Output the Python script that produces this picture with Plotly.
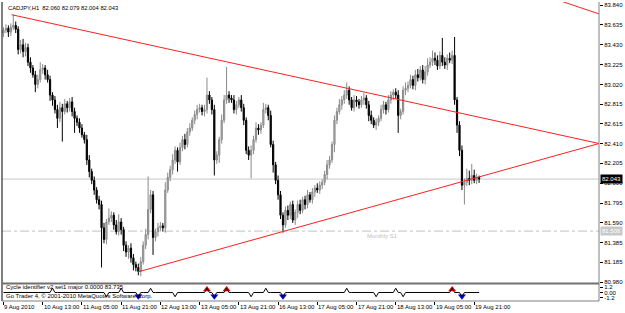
import plotly.graph_objects as go

# ---------------- data ----------------
chart_title = "CADJPY,H1  82.060 82.079 82.004 82.043"
first_open = 83.55

close = [
    83.58, 83.60, 83.56, 83.61, 83.63, 83.59, 83.38, 83.43,
    83.36, 83.40, 83.25, 83.19, 83.12, 83.02, 83.07, 83.17,
    83.19, 83.12, 83.07, 82.91, 82.86, 82.76, 82.67, 82.78,
    82.74, 82.82, 82.78, 82.84, 82.74, 82.67, 82.63, 82.57,
    82.50, 82.45, 82.24, 82.12, 82.03, 81.93, 81.83, 81.78,
    81.54, 81.42, 81.60, 81.64, 81.67, 81.57, 81.50, 81.60,
    81.52, 81.36, 81.29, 81.33, 81.23, 81.16, 81.13, 81.09,
    81.19, 81.36, 81.47, 81.73, 81.88, 81.44, 81.50, 81.54,
    81.56, 81.54, 81.93, 82.06, 82.14, 82.24, 82.34, 82.22,
    82.37, 82.45, 82.40, 82.53, 82.57, 82.65, 82.71, 82.76,
    82.78, 82.74, 82.76, 82.91, 82.86, 82.76, 82.24, 82.29,
    82.45, 82.65, 82.86, 82.91, 82.88, 82.86, 82.76, 82.81,
    82.86, 82.78, 82.65, 82.34, 82.29, 82.34, 82.45, 82.57,
    82.55, 82.60, 82.76, 82.78, 82.70, 82.40, 82.19, 82.03,
    81.88, 81.67, 81.57, 81.72, 81.67, 81.78, 81.62, 81.70,
    81.78, 81.72, 81.83, 81.78, 81.88, 81.83, 81.91, 81.95,
    81.93, 81.98, 82.01, 82.09, 82.19, 82.24, 82.40, 82.65,
    82.74, 82.81, 82.86, 82.91, 82.96, 82.86, 82.78, 82.86,
    82.84, 82.81, 82.86, 82.88, 82.81, 82.70, 82.65, 82.60,
    82.63, 82.67, 82.76, 82.81, 82.76, 82.86, 82.91, 82.94,
    82.91, 82.70, 82.74, 82.96, 82.98, 83.01, 83.07, 83.01,
    83.12, 83.09, 83.17, 83.07, 83.15, 83.22, 83.25, 83.29,
    83.27, 83.21, 83.32, 83.25, 83.22, 83.29, 83.27, 83.32,
    82.86, 82.60, 82.34, 81.98, 82.01, 82.05, 82.03, 82.08,
    82.03, 82.06, 82.043,
]

wick_up_pips = [
    3, 4, 3, 4, 11, 4, 3, 5, 6, 5,
    4, 5, 3, 4, 5, 8, 4, 3, 5, 4,
    3, 4, 5, 6, 4, 5, 3, 4, 5, 4,
    3, 4, 4, 3, 5, 5, 3, 4, 3, 4,
    4, 5, 3, 10, 4, 3, 5, 8, 4, 3,
    4, 3, 5, 4, 3, 4, 5, 4, 6, 34,
    5, 4, 3, 5, 4, 3, 8, 5, 4, 6,
    4, 3, 5, 4, 6, 4, 5, 3, 4, 5,
    4, 3, 5, 18, 4, 3, 5, 4, 3, 6,
    5, 29, 4, 3, 5, 4, 3, 5, 4, 3,
    4, 5, 4, 6, 4, 3, 7, 4, 3, 5,
    4, 3, 5, 4, 3, 4, 5, 3, 4, 3,
    4, 5, 3, 4, 5, 3, 4, 3, 5, 4,
    3, 4, 5, 4, 3, 5, 4, 6, 4, 5,
    8, 4, 3, 5, 4, 3, 4, 5, 3, 4,
    5, 3, 4, 3, 5, 4, 3, 5, 4, 3,
    4, 5, 3, 4, 6, 4, 5, 4, 5, 6,
    4, 5, 6, 7, 5, 8, 6, 5, 4, 18,
    5, 4, 6, 5, 19, 3, 4, 5, 4, 10,
    8, 12, 6, 4, 1.9,
]

wick_dn_pips = [
    4, 3, 5, 4, 3, 4, 5, 4, 6, 5,
    4, 5, 3, 8, 4, 3, 4, 5, 3, 6,
    6, 4, 10, 4, 31, 3, 5, 4, 5, 15,
    4, 5, 3, 4, 5, 6, 4, 5, 4, 5,
    41, 4, 5, 3, 4, 5, 3, 4, 5, 6,
    5, 7, 5, 6, 4, 4, 5, 3, 4, 5,
    4, 18, 4, 5, 3, 4, 5, 3, 4, 5,
    4, 10, 3, 4, 5, 3, 4, 3, 4, 5,
    3, 4, 5, 4, 4, 5, 16, 4, 8, 4,
    3, 4, 5, 3, 4, 5, 3, 4, 5, 4,
    5, 24, 4, 3, 5, 4, 3, 4, 5, 3,
    8, 4, 5, 4, 8, 3, 5, 4, 3, 5,
    6, 4, 3, 5, 4, 3, 4, 5, 3, 4,
    4, 3, 5, 4, 3, 8, 4, 3, 5, 4,
    4, 5, 3, 4, 5, 4, 3, 5, 4, 6,
    4, 3, 5, 4, 3, 4, 5, 3, 4, 5,
    4, 18, 4, 3, 5, 4, 3, 4, 5, 4,
    3, 4, 5, 4, 3, 4, 5, 4, 3, 4,
    4, 5, 3, 4, 5, 8, 6, 5, 20, 4,
    5, 4, 3, 4, 3.9,
]

time_label_bars = [0, 16, 32, 48, 64, 80, 96, 112, 128, 144, 160, 176, 192]
time_labels = ["9 Aug 2010", "10 Aug 13:00", "11 Aug 05:00", "11 Aug 21:00",
               "12 Aug 13:00", "13 Aug 05:00", "13 Aug 21:00", "16 Aug 13:00",
               "17 Aug 05:00", "17 Aug 21:00", "18 Aug 13:00", "19 Aug 05:00",
               "19 Aug 21:00"]

price_ticks = [83.840, 83.635, 83.430, 83.225, 83.020, 82.815, 82.615, 82.410,
               82.205, 82.000, 81.795, 81.590, 81.385, 81.185, 80.980]

trend_upper_x = [3.3, 242.9]
trend_upper_y = [83.74, 82.41]
trend_lower_x = [54.9, 242.9]
trend_lower_y = [81.085, 82.41]
trend_top_x = [228.0, 242.9]
trend_top_y = [83.875, 83.748]

bid_price = 82.043
monthly_s1 = 81.506

cycle_peaks = [20, 48, 60, 83, 91, 107, 140, 160, 183]
cycle_troughs = [42, 55, 70, 86, 101, 114, 152, 163, 187]
major_peaks = [83, 91, 183]
major_troughs = [55, 86, 114, 187]

ind_ticks = [1.2, 0.0, -1.2]
ind_ticktext = ["1.2", "0.00", "-1.2"]
ind_text1 = "Cycle identifier v2 set1 major 0.0000 83.735"
ind_text2 = "Go Trader 4, \u00a9 2001-2010 MetaQuotes Software Corp."

# ---------------- build ----------------
n = len(close)
bars = list(range(n))
opens = [first_open] + close[:-1]
highs = [max(o, c) + u / 100 for o, c, u in zip(opens, close, wick_up_pips)]
lows = [min(o, c) - d / 100 for o, c, d in zip(opens, close, wick_dn_pips)]

cycle = [0.0] * n
for p in cycle_peaks:
    cycle[p] = 1.0
for t in cycle_troughs:
    cycle[t] = -1.0

FONT = "Liberation Sans, Arial, sans-serif"
XR = [-0.6, 242.9]
MAIN_BOTTOM = 0.0602
IND_TOP = 0.0569

fig = go.Figure()

fig.add_trace(go.Candlestick(
    x=bars, open=opens, high=highs, low=lows, close=close,
    increasing=dict(line=dict(color="#8a8a8a", width=1), fillcolor="#b4b4b4"),
    decreasing=dict(line=dict(color="#000000", width=1), fillcolor="#000000"),
    whiskerwidth=0, xaxis="x", yaxis="y", showlegend=False,
))

for xs, ys in [(trend_upper_x, trend_upper_y), (trend_lower_x, trend_lower_y),
               (trend_top_x, trend_top_y)]:
    fig.add_trace(go.Scatter(x=xs, y=ys, mode="lines",
                             line=dict(color="#ff2020", width=1),
                             xaxis="x", yaxis="y", showlegend=False))

# indicator
fig.add_trace(go.Scatter(x=major_peaks, y=[0.7] * len(major_peaks), mode="markers",
                         marker=dict(symbol="triangle-up", size=7, color="#e00000"),
                         xaxis="x2", yaxis="y2", showlegend=False))
fig.add_trace(go.Scatter(x=major_troughs, y=[-0.9] * len(major_troughs), mode="markers",
                         marker=dict(symbol="triangle-down", size=7, color="#0000e0"),
                         xaxis="x2", yaxis="y2", showlegend=False))
fig.add_trace(go.Scatter(x=bars, y=cycle, mode="lines",
                         line=dict(color="#000000", width=1),
                         xaxis="x2", yaxis="y2", showlegend=False))

shapes = [
    dict(type="line", xref="x", yref="y", x0=XR[0], x1=XR[1], y0=bid_price, y1=bid_price,
         line=dict(color="#c8c8c8", width=1), layer="below"),
    dict(type="line", xref="x", yref="y", x0=XR[0], x1=XR[1], y0=monthly_s1, y1=monthly_s1,
         line=dict(color="#c0c0c0", width=1, dash="dashdot"), layer="below"),
    dict(type="line", xref="paper", yref="paper", x0=0, x1=0, y0=0, y1=1,
         line=dict(color="#000000", width=1)),
    dict(type="line", xref="paper", yref="paper", x0=1, x1=1, y0=0, y1=1,
         line=dict(color="#808080", width=1)),
    dict(type="line", xref="paper", yref="paper", x0=0, x1=1, y0=MAIN_BOTTOM - 0.002,
         y1=MAIN_BOTTOM - 0.002, line=dict(color="#707070", width=2)),
    dict(type="line", xref="paper", yref="paper", x0=0, x1=1, y0=0, y1=0,
         line=dict(color="#808080", width=1)),
]

annotations = [
    dict(xref="paper", yref="paper", x=0.006, y=1, xanchor="left", yanchor="top",
         text=chart_title, showarrow=False, yshift=-1,
         font=dict(family=FONT, size=5.8, color="#000000")),
    dict(xref="paper", yref="y", x=1, y=bid_price, xanchor="left", yanchor="middle",
         text=f"{bid_price:.3f}", showarrow=False, xshift=1, bgcolor="#000000",
         borderpad=1, font=dict(family=FONT, size=6, color="#ffffff")),
    dict(xref="paper", yref="y", x=1, y=monthly_s1, xanchor="left", yanchor="middle",
         text=f"{monthly_s1:.3f}", showarrow=False, xshift=1, bgcolor="#c8c8c8",
         borderpad=1, font=dict(family=FONT, size=6, color="#ffffff")),
    dict(xref="x", yref="y", x=147.5, y=monthly_s1, xanchor="left", yanchor="top",
         text="Monthly S1", showarrow=False,
         font=dict(family=FONT, size=6, color="#c0c0c0")),
    dict(xref="paper", yref="paper", x=0.004, y=0.0468, xanchor="left", yanchor="middle",
         text=ind_text1, showarrow=False,
         font=dict(family=FONT, size=6, color="#000000")),
    dict(xref="paper", yref="paper", x=0.004, y=0.0167, xanchor="left", yanchor="middle",
         text=ind_text2, showarrow=False,
         font=dict(family=FONT, size=6, color="#000000")),
]
for b, lab in zip(time_label_bars, time_labels):
    annotations.append(dict(xref="x2", yref="paper", x=b, y=-0.02, xanchor="left",
                            yanchor="middle", text=lab, showarrow=False, xshift=-1,
                            font=dict(family=FONT, size=6, color="#000000")))

fig.update_layout(
    width=625, height=313,
    margin=dict(l=2, r=24, t=2, b=12),
    paper_bgcolor="#ffffff", plot_bgcolor="#ffffff",
    showlegend=False,
    xaxis=dict(domain=[0, 1], range=XR, anchor="y", showticklabels=False,
               showgrid=False, zeroline=False, showline=False, ticks="",
               rangeslider=dict(visible=False)),
    xaxis2=dict(domain=[0, 1], range=XR, anchor="y2", matches="x",
                showticklabels=False, showgrid=False, zeroline=False, showline=False,
                ticks="outside", tickvals=time_label_bars, ticklen=3,
                tickcolor="#000000", tickwidth=1),
    yaxis=dict(domain=[MAIN_BOTTOM, 1], range=[80.97, 83.871], anchor="x", side="right",
               tickvals=price_ticks, ticktext=[f"{v:.3f}" for v in price_ticks],
               ticks="outside", ticklen=3, tickcolor="#000000", tickwidth=1,
               tickfont=dict(family=FONT, size=6, color="#000000"),
               showgrid=False, zeroline=False, showline=False),
    yaxis2=dict(domain=[0, IND_TOP], range=[-2, 2], anchor="x2", side="right",
                tickvals=ind_ticks, ticktext=ind_ticktext,
                ticks="outside", ticklen=3, tickcolor="#000000", tickwidth=1,
                tickfont=dict(family=FONT, size=6, color="#000000"),
                showgrid=False, zeroline=False, showline=False),
    shapes=shapes,
    annotations=annotations,
)

fig.write_html("out.html")
